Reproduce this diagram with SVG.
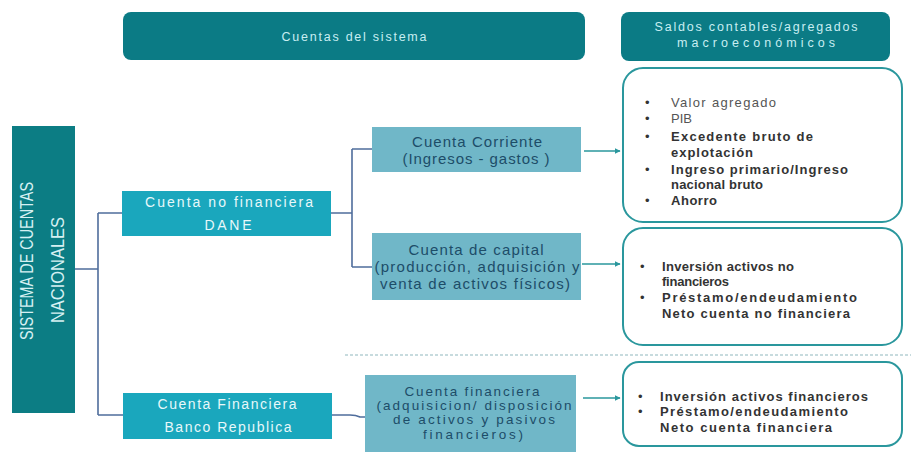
<svg xmlns="http://www.w3.org/2000/svg" width="911" height="455" viewBox="0 0 911 455">
<defs>
<style>
text{font-family:"Liberation Sans",Arial,sans-serif}
.hdr{fill:#0b7b85}
.hdrt{fill:#c8eef2;font-size:12.5px;text-anchor:middle}
.lvl1{fill:#1aa7bd}
.lvl1t{fill:#e8f8fa;font-size:14px;text-anchor:middle}
.lvl2{fill:#70b7c8}
.lvl2t{fill:#1d4d68;font-size:15px;text-anchor:middle}
.lvl2s{fill:#1d4d68;font-size:13.5px;text-anchor:middle}
.res{fill:#fff;stroke:#2a979d;stroke-width:2}
.bul{fill:#333;font-size:13px}
.reg{fill:#555;font-weight:normal}
.bld{font-weight:bold;fill:#333}
.tree{fill:none;stroke:#4f6d9c;stroke-width:1.6}
.arr{fill:none;stroke:#2a979d;stroke-width:1.4;marker-end:url(#ah)}
</style>
<marker id="ah" viewBox="0 0 10 10" refX="9" refY="5" markerWidth="6" markerHeight="6" orient="auto" markerUnits="userSpaceOnUse">
<path d="M0,0 L10,5 L0,10 z" fill="#2a979d"/>
</marker>
</defs>
<rect width="911" height="455" fill="#fff"/>

<g id="connectors">
<path class="tree" d="M75,269 H98 M98,213 V415 M98,213 H122 M98,415 H123"/>
<path class="tree" d="M331,213 H352 M352,149 V267 M352,149 H372 M352,267 H372"/>
<path class="tree" d="M332,415 H350 Q356,415 360,417 H365"/>
<path class="arr" d="M584,151 H620"/>
<path class="arr" d="M582,264 H620"/>
<path class="arr" d="M583,398 H620"/>
<line x1="345" y1="355" x2="911" y2="355" stroke="#8fb7bd" stroke-width="1.2" stroke-dasharray="3,2"/>
</g>

<g id="h1">
<rect class="hdr" x="123" y="12" width="462" height="48" rx="8"/>
<text class="hdrt" x="354" y="41" textLength="145">Cuentas del sistema</text>
</g>
<g id="h2">
<rect class="hdr" x="621" y="12" width="269" height="49" rx="8"/>
<text class="hdrt" x="756" y="31" textLength="203">Saldos contables/agregados</text>
<text class="hdrt" x="756" y="47" textLength="158">macroeconómicos</text>
</g>

<g id="scn">
<rect fill="#0c7d84" x="12" y="126" width="63" height="287"/>
<text fill="#d6f0f2" font-size="18" text-anchor="middle" transform="translate(33,261) rotate(-90)" textLength="158" lengthAdjust="spacingAndGlyphs">SISTEMA DE CUENTAS</text>
<text fill="#d6f0f2" font-size="18" text-anchor="middle" transform="translate(64,270) rotate(-90)" textLength="106" lengthAdjust="spacingAndGlyphs">NACIONALES</text>
</g>

<g id="nofin">
<rect class="lvl1" x="122" y="191" width="209" height="45"/>
<text class="lvl1t" x="229" y="207" textLength="168">Cuenta no financiera</text>
<text class="lvl1t" x="228" y="230" textLength="47">DANE</text>
</g>
<g id="fin">
<rect class="lvl1" x="123" y="393" width="209" height="46"/>
<text class="lvl1t" x="227" y="409" textLength="139">Cuenta Financiera</text>
<text class="lvl1t" x="228" y="432" textLength="127">Banco Republica</text>
</g>

<g id="corriente">
<rect class="lvl2" x="372" y="127" width="209" height="45"/>
<text class="lvl2t" x="477" y="147" textLength="130">Cuenta Corriente</text>
<text class="lvl2t" x="476" y="164" textLength="147">(Ingresos - gastos )</text>
</g>
<g id="capital">
<rect class="lvl2" x="372" y="233" width="209" height="67"/>
<text class="lvl2t" x="476" y="255" textLength="135">Cuenta de capital</text>
<text class="lvl2t" x="477" y="272" textLength="205">(producción, adquisición y</text>
<text class="lvl2t" x="475" y="289" textLength="190">venta de activos físicos)</text>
</g>
<g id="financiera">
<rect class="lvl2" x="365" y="375" width="211" height="77"/>
<text class="lvl2s" x="472" y="396" textLength="135">Cuenta financiera</text>
<text class="lvl2s" x="474" y="410" textLength="195">(adquisicion/ disposición</text>
<text class="lvl2s" x="474" y="424" textLength="162">de activos y pasivos</text>
<text class="lvl2s" x="473" y="439" textLength="100">financieros)</text>
</g>

<g id="saldos1">
<rect class="res" x="623" y="68" width="279" height="154" rx="20"/>
<g class="bul">
<text x="645" y="107">•</text><text x="671" y="107" class="reg" textLength="105">Valor agregado</text>
<text x="645" y="123">•</text><text x="671" y="123" class="reg">PIB</text>
<text x="645" y="141">•</text><text x="671" y="141" class="bld" textLength="142">Excedente bruto de</text>
<text x="671" y="157" class="bld" textLength="82">explotación</text>
<text x="645" y="174">•</text><text x="671" y="174" class="bld" textLength="177">Ingreso primario/Ingreso</text>
<text x="671" y="189" class="bld" textLength="92">nacional bruto</text>
<text x="645" y="205">•</text><text x="671" y="205" class="bld" textLength="46">Ahorro</text>
</g>
</g>
<g id="saldos2">
<rect class="res" x="623" y="228" width="279" height="117" rx="20"/>
<g class="bul">
<text x="640" y="271">•</text><text x="662" y="271" class="bld" textLength="132">Inversión activos no</text>
<text x="662" y="286" class="bld" textLength="67">financieros</text>
<text x="640" y="302">•</text><text x="662" y="302" class="bld" textLength="195">Préstamo/endeudamiento</text>
<text x="662" y="318" class="bld" textLength="188">Neto cuenta no financiera</text>
</g>
</g>
<g id="saldos3">
<rect class="res" x="623" y="362" width="279" height="84" rx="16"/>
<g class="bul">
<text x="638" y="401">•</text><text x="660" y="401" class="bld" textLength="208">Inversión activos financieros</text>
<text x="638" y="416">•</text><text x="660" y="416" class="bld" textLength="188">Préstamo/endeudamiento</text>
<text x="660" y="432" class="bld" textLength="172">Neto cuenta financiera</text>
</g>
</g>
</svg>
